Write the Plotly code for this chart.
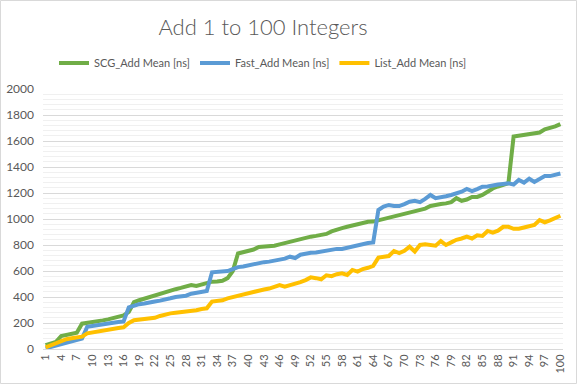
import plotly.graph_objects as go

x_vals = list(range(1, 101))
x_tick_labels = [str(v) for v in range(1, 101, 3)]

scg_add = [30, 40, 55, 100, 108, 115, 125, 195, 200, 205,
           212, 220, 228, 236, 245, 258, 285, 360, 375, 388,
           395, 410, 425, 440, 450, 460, 470, 480, 492, 485,
           495, 510, 518, 520, 525, 545, 600, 735, 745, 755,
           765, 785, 788, 792, 795, 805, 815, 826, 838, 850,
           858, 864, 870, 880, 885, 905, 920, 930, 940, 950,
           965, 972, 978, 980, 990, 1000, 1010, 1015, 1025, 1035,
           1044, 1055, 1065, 1080, 1100, 1110, 1115, 1120, 1130, 1160,
           1140, 1150, 1170, 1170, 1185, 1210, 1235, 1250, 1265, 1275,
           1635, 1640, 1645, 1650, 1660, 1665, 1690, 1700, 1712, 1730]

fast_add = [5, 15, 25, 35, 45, 56, 68, 80, 170, 175,
            180, 190, 195, 202, 208, 212, 320, 335, 345, 350,
            360, 365, 372, 385, 390, 400, 402, 410, 425, 430,
            440, 446, 590, 595, 598, 600, 615, 630, 635, 645,
            650, 659, 668, 672, 678, 685, 695, 710, 700, 725,
            735, 740, 742, 748, 760, 767, 770, 770, 780, 792,
            800, 810, 815, 820, 1069, 1095, 1108, 1100, 1100, 1115,
            1133, 1140, 1130, 1155, 1185, 1160, 1165, 1175, 1185, 1195,
            1210, 1231, 1215, 1230, 1248, 1250, 1260, 1265, 1270, 1275,
            1265, 1300, 1280, 1310, 1285, 1310, 1330, 1330, 1340, 1350]

list_add = [13, 30, 45, 56, 75, 82, 88, 95, 120, 128,
            133, 140, 148, 155, 162, 167, 200, 222, 228, 232,
            236, 240, 254, 268, 274, 279, 282, 288, 290, 298,
            308, 313, 365, 370, 375, 390, 400, 410, 423, 430,
            440, 454, 458, 465, 480, 492, 480, 490, 500, 515,
            530, 551, 545, 536, 567, 560, 575, 582, 570, 608,
            595, 615, 625, 640, 703, 712, 715, 754, 738, 755,
            787, 750, 800, 805, 800, 795, 830, 800, 820, 840,
            850, 864, 850, 875, 870, 908, 895, 910, 940, 940,
            925, 925, 935, 945, 954, 992, 975, 990, 1005, 1025]

series_names = ["SCG_Add Mean [ns]", "Fast_Add Mean [ns]", "List_Add Mean [ns]"]
series_colors = ["#70AD47", "#5B9BD5", "#FFC000"]

W, H = 577, 384
L, R, T, B = 43, 14, 89, 35
pw, ph = W - L - R, H - T - B
FONT = "Lato, 'Open Sans', sans-serif"

fig = go.Figure()
for name, ys, col in zip(series_names, [scg_add, fast_add, list_add], series_colors):
    fig.add_trace(go.Scatter(x=x_vals, y=ys, mode="lines", name=name,
                             line=dict(color=col, width=4)))

fig.update_layout(
    width=W, height=H,
    margin=dict(l=L, r=R, t=T, b=B, autoexpand=False),
    paper_bgcolor="white", plot_bgcolor="white",
    font=dict(family=FONT, color="#595959", size=12),
    title=dict(text="Add 1 to 100 Integers", x=(263 - L) / pw, xref="paper",
               xanchor="center", y=1 - 27 / H, yanchor="middle",
               font=dict(size=22, color="#595959", family=FONT, weight=300)),
    legend=dict(orientation="h", x=(263 - L) / pw, xanchor="center",
                y=(H - B - 63) / ph, yanchor="middle",
                font=dict(size=11, color="#595959"),
                itemwidth=30, traceorder="normal"),
    showlegend=True,
)
fig.update_xaxes(range=[0.5, 100.5], tickmode="array",
                 tickvals=list(range(1, 101, 3)), ticktext=x_tick_labels,
                 tickangle=-90, showgrid=False, zeroline=False,
                 showline=True, linecolor="#d9d9d9", linewidth=1,
                 ticks="", tickfont=dict(size=11, color="#595959"))
fig.update_yaxes(range=[0, 2000], dtick=200, showgrid=True,
                 gridcolor="#d9d9d9", gridwidth=1, zeroline=False,
                 ticks="", tickfont=dict(size=12, color="#595959"),
                 ticklabelstandoff=8,
                 minor=dict(dtick=40, showgrid=True, gridcolor="#f0f0f0", gridwidth=1))
fig.add_shape(type="rect", xref="paper", yref="paper",
              x0=(-L + 0.5) / pw, x1=1 + (R - 0.5) / pw,
              y0=(-B + 0.5) / ph, y1=1 + (T - 0.5) / ph,
              line=dict(color="#d9d9d9", width=1), layer="below")
fig.write_html("out.html", config={"displayModeBar": False},
               post_script="document.body.style.margin='0';")
